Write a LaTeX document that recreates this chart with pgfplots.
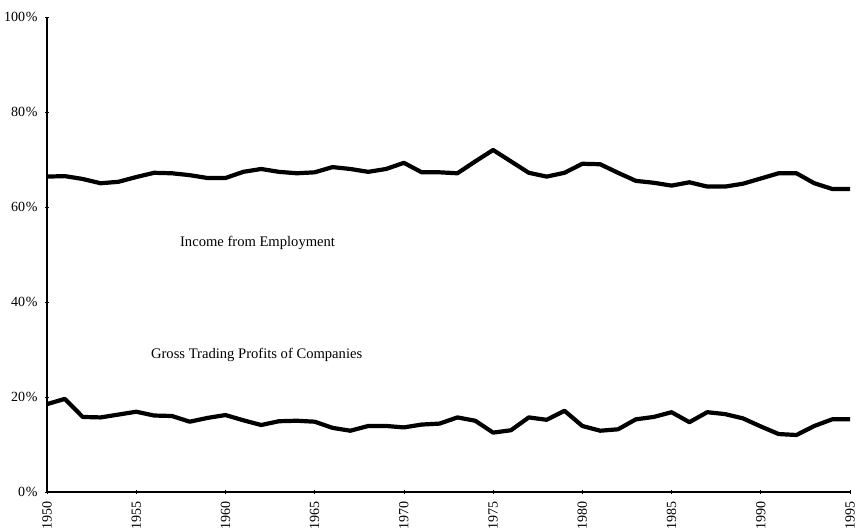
\documentclass[border=0pt]{standalone}
\usepackage{pgfplots}
\pgfplotsset{compat=1.18}
\usepackage{fontspec}
\setmainfont{Liberation Serif}
\begin{document}
\begin{tikzpicture}
\begin{axis}[
  scale only axis,
  width=803pt, height=475pt,
  xmin=1950, xmax=1995,
  ymin=0, ymax=100,
  axis lines=left,
  axis line style={line width=1.4pt, -},
  xtick={1950,1955,...,1995},
  ytick={0,20,...,100},
  tick align=center,
  major tick length=4pt,
  tick style={line width=0.6pt, black},
  /pgf/number format/assume math mode=true,
  x tick label style={/pgf/number format/set thousands separator={}, rotate=90, anchor=east, yshift=-0pt, xshift=0pt, font=\fontsize{14}{16}\selectfont},
  xticklabel shift=4pt,
  yticklabel={\pgfmathprintnumber{\tick}\kern0.6pt\%},
  y tick label style={font=\fontsize{14}{16}\selectfont},
  yticklabel shift=4pt,
  clip=false,
]
\addplot[black, line width=4.2pt, line join=round] coordinates {
(1950,66.4) (1951,66.5) (1952,65.9) (1953,65.0) (1954,65.3) (1955,66.3)
(1956,67.2) (1957,67.1) (1958,66.7) (1959,66.1) (1960,66.1) (1961,67.4)
(1962,68.0) (1963,67.4) (1964,67.1) (1965,67.3) (1966,68.4) (1967,68.0)
(1968,67.4) (1969,68.0) (1970,69.3) (1971,67.3) (1972,67.3) (1973,67.1)
(1974,69.6) (1975,72.0) (1976,69.6) (1977,67.2) (1978,66.4) (1979,67.2)
(1980,69.1) (1981,69.0) (1982,67.2) (1983,65.5) (1984,65.1) (1985,64.5)
(1986,65.2) (1987,64.3) (1988,64.3) (1989,64.9) (1990,66.0) (1991,67.1)
(1992,67.1) (1993,65.0) (1994,63.8) (1995,63.8)
};
\addplot[black, line width=4.2pt, line join=round] coordinates {
(1950,18.5) (1951,19.6) (1952,15.8) (1953,15.7) (1954,16.3) (1955,16.9)
(1956,16.1) (1957,16.0) (1958,14.8) (1959,15.6) (1960,16.2) (1961,15.1)
(1962,14.1) (1963,14.9) (1964,15.0) (1965,14.8) (1966,13.5) (1967,12.9)
(1968,13.9) (1969,13.9) (1970,13.6) (1971,14.2) (1972,14.4) (1973,15.7)
(1974,15.0) (1975,12.5) (1976,13.0) (1977,15.7) (1978,15.2) (1979,17.1)
(1980,13.9) (1981,12.9) (1982,13.2) (1983,15.3) (1984,15.8) (1985,16.8)
(1986,14.7) (1987,16.8) (1988,16.4) (1989,15.5) (1990,13.8) (1991,12.2)
(1992,12.0) (1993,13.9) (1994,15.3) (1995,15.3)
};
\node[font=\fontsize{14.6}{17}\selectfont] at (axis cs:1961.8,52.4) {Income from Employment};
\node[font=\fontsize{14.6}{17}\selectfont] at (axis cs:1961.75,28.8) {Gross Trading Profits of Companies};
\end{axis}
\pgfresetboundingbox
\path (current axis.south west) ++(-47pt,-40pt) rectangle ++(856pt,532pt);
\end{tikzpicture}
\end{document}
